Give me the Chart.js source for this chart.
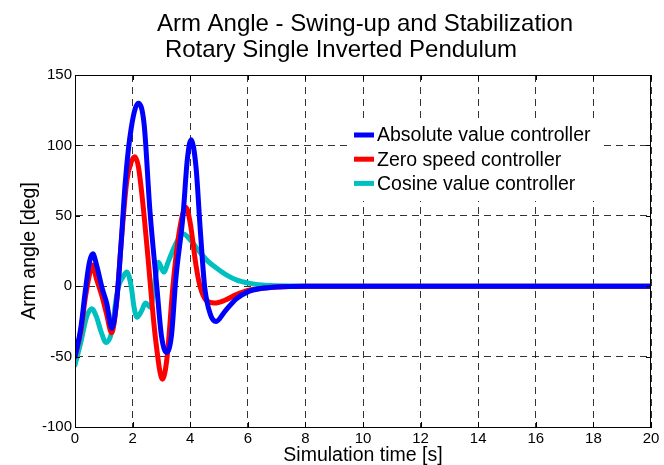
<!DOCTYPE html>
<html>
<head>
<meta charset="utf-8">
<script src="https://cdn.jsdelivr.net/npm/chart.js@4.4.1/dist/chart.umd.min.js"></script>
<style>
html,body{margin:0;padding:0;background:#fff;}
#wrap{width:664px;height:465px;}
</style>
</head>
<body>
<div id="wrap"><canvas id="c" width="664" height="465"></canvas></div>
<script>
// ---- data ----
const titleLines = ["Arm Angle - Swing-up and Stabilization", "Rotary Single Inverted Pendulum"];
const xLabel = "Simulation time [s]";
const yLabel = "Arm angle [deg]";
const seriesNames = ["Absolute value controller", "Zero speed controller", "Cosine value controller"];

const absTime = [0, 0.2, 0.36, 0.5, 0.62, 0.75, 0.95, 1.1, 1.28, 1.45, 1.6, 1.75, 1.95, 2.2, 2.4, 2.6, 2.84, 3.0, 3.18, 3.35, 3.5, 3.75, 3.9, 4.03, 4.2, 4.35, 4.5, 4.7, 4.9, 5.2, 5.6, 6.0, 6.5, 7.0, 8, 20];
const absVal  = [-50, -30, -3, 17, 23, 15, -2, -12, -30, -10, 30, 75, 112, 130, 115, 54, 0, -35, -47, -35, 5, 50, 90, 104, 85, 40, 0, -20, -25, -18, -9, -4, -1.5, -0.5, 0, 0];

const zeroTime = [0, 0.2, 0.36, 0.5, 0.6, 0.75, 0.95, 1.1, 1.27, 1.45, 1.6, 1.8, 1.95, 2.08, 2.2, 2.35, 2.5, 2.8, 3.04, 3.2, 3.4, 3.63, 3.85, 4.0, 4.2, 4.34, 4.55, 4.85, 5.2, 5.6, 6.0, 6.5, 7.0, 8, 20];
const zeroVal  = [-50, -32, -8, 8, 15, 5, -8, -20, -33, -10, 30, 75, 88, 92, 85, 60, 28, -38, -66, -50, 0, 40, 56, 45, 15, 0, -10, -12, -10, -6, -3, -1.5, -0.5, 0, 0];

const cosTime = [0, 0.2, 0.4, 0.58, 0.75, 0.9, 1.08, 1.29, 1.4, 1.5, 1.65, 1.8, 1.95, 2.05, 2.15, 2.3, 2.45, 2.62, 2.75, 2.9, 3.08, 3.25, 3.45, 3.6, 3.76, 4.0, 4.3, 4.6, 4.92, 5.3, 5.6, 6.08, 6.5, 7.0, 8, 20];
const cosVal  = [-56, -40, -22, -16, -22, -32, -40, -31, -13, -1, 6, 10, 0, -15, -22, -18, -12, -15, 0, 17, 10, 18, 28, 34, 37, 33, 25, 18, 12.8, 7.5, 4.5, 2, 0.8, 0.3, 0, 0];

const xTicks = [0, 2, 4, 6, 8, 10, 12, 14, 16, 18, 20];
const yTicks = [-100, -50, 0, 50, 100, 150];
// ---------------------------------------

const FONT = "'Liberation Sans', Arial, sans-serif";
const colors = ["#0000FF", "#FF0000", "#00BFBF"];

function pts(t, v) { return t.map((x, i) => ({ x: x, y: v[i] })); }

const decor = {
  id: 'decor',
  afterDraw(chart) {
    const ctx = chart.ctx, a = chart.chartArea;
    const xs = chart.scales.x, ys = chart.scales.y;
    ctx.save();
    // box
    ctx.strokeStyle = '#000'; ctx.lineWidth = 1; ctx.setLineDash([]);
    ctx.strokeRect(a.left + 0.5, a.top + 0.5, a.right - a.left - 1, a.bottom - a.top);
    // inward ticks
    ctx.beginPath();
    xTicks.forEach(v => {
      const px = Math.round(xs.getPixelForValue(v)) + 0.5;
      ctx.moveTo(px, a.bottom); ctx.lineTo(px, a.bottom - 5);
      ctx.moveTo(px, a.top); ctx.lineTo(px, a.top + 5);
    });
    yTicks.forEach(v => {
      const py = Math.round(ys.getPixelForValue(v)) + 0.5;
      ctx.moveTo(a.left, py); ctx.lineTo(a.left + 5, py);
      ctx.moveTo(a.right, py); ctx.lineTo(a.right - 5, py);
    });
    ctx.stroke();
    // title
    ctx.fillStyle = '#000';
    ctx.font = "24px " + FONT;
    ctx.textAlign = 'center'; ctx.textBaseline = 'alphabetic';
    ctx.fillText(titleLines[0], 365, 31);
    ctx.fillText(titleLines[1], 341, 57);
    // legend (white box, no border)
    ctx.fillStyle = '#fff';
    ctx.fillRect(347, 121, 252, 80);
    ctx.font = "19.5px " + FONT;
    ctx.textAlign = 'left'; ctx.textBaseline = 'middle';
    chart.data.datasets.forEach((ds, i) => {
      const y = 135 + i * 24.2;
      ctx.strokeStyle = ds.borderColor; ctx.lineWidth = 5;
      ctx.beginPath(); ctx.moveTo(354, y); ctx.lineTo(374, y); ctx.stroke();
      ctx.fillStyle = '#000';
      ctx.fillText(ds.label, 377, y + 1);
    });
    ctx.restore();
  }
};

new Chart(document.getElementById('c'), {
  type: 'line',
  data: {
    datasets: [
      { label: seriesNames[0], data: pts(absTime, absVal), borderColor: colors[0] },
      { label: seriesNames[1], data: pts(zeroTime, zeroVal), borderColor: colors[1] },
      { label: seriesNames[2], data: pts(cosTime, cosVal), borderColor: colors[2] }
    ]
  },
  options: {
    responsive: false,
    animation: false,
    devicePixelRatio: 1,
    layout: { padding: { top: 75, right: 13, left: 0, bottom: 0 } },
    elements: {
      line: { borderWidth: 5, cubicInterpolationMode: 'monotone', fill: false, borderCapStyle: 'round', borderJoinStyle: 'round' },
      point: { radius: 0, hoverRadius: 0 }
    },
    plugins: { legend: { display: false }, title: { display: false }, tooltip: { enabled: false } },
    scales: {
      x: {
        type: 'linear', min: 0, max: 20,
        afterBuildTicks: s => { s.ticks = xTicks.map(v => ({ value: v })); },
        afterFit: s => { s.height = 38; },
        ticks: { color: '#000', padding: 3, font: { family: FONT, size: 15 }, maxRotation: 0, autoSkip: false },
        grid: { color: 'rgba(0,0,0,0.8)', lineWidth: 1, drawTicks: false },
        border: { display: true, color: '#000', width: 1, dash: [7, 5] },
        title: { display: true, text: xLabel, color: '#000', font: { family: FONT, size: 19.5, lineHeight: 1 }, padding: { top: 0, bottom: 0 } }
      },
      y: {
        type: 'linear', min: -100, max: 150,
        afterBuildTicks: s => { s.ticks = yTicks.map(v => ({ value: v })); },
        afterFit: s => { s.width = 75; },
        ticks: { color: '#000', padding: 3, font: { family: FONT, size: 15 }, autoSkip: false },
        grid: { color: 'rgba(0,0,0,0.8)', lineWidth: 1, drawTicks: false },
        border: { display: true, color: '#000', width: 1, dash: [7, 5] },
        title: { display: true, text: yLabel, color: '#000', font: { family: FONT, size: 19.5, lineHeight: 1 }, padding: { top: 20, bottom: 0 } }
      }
    }
  },
  plugins: [decor]
});
</script>
</body>
</html>
